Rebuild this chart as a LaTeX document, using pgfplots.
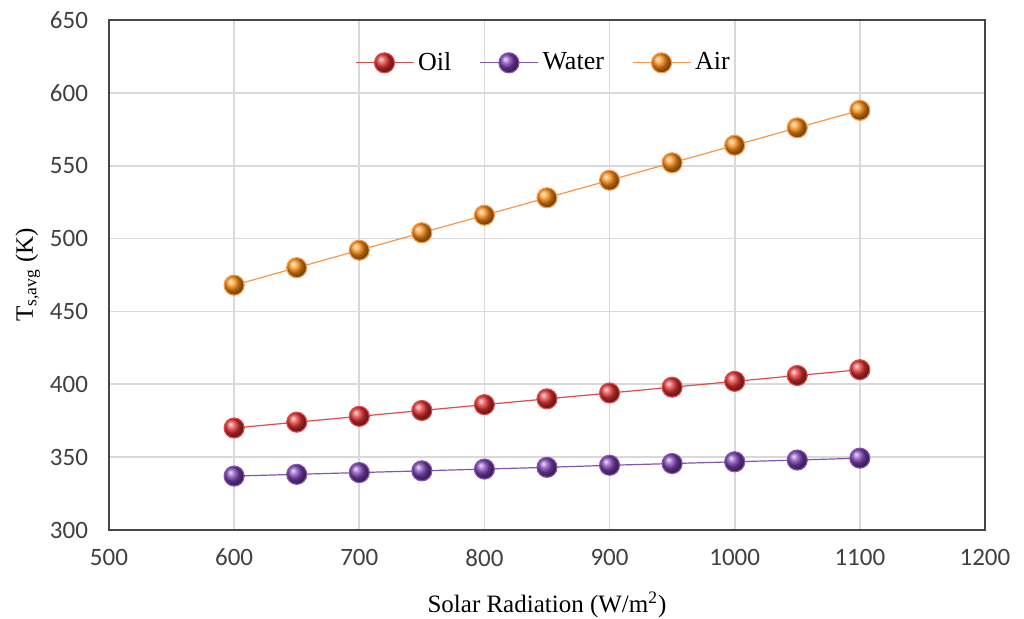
\documentclass[border=0pt]{standalone}
\usepackage{fontspec}
\setmainfont{Liberation Serif}
\newfontfamily\calibri{Carlito}
\usepackage{pgfplots}
\pgfplotsset{compat=1.18}
\definecolor{oilline}{RGB}{225,75,75}
\definecolor{oilball}{RGB}{225,50,50}
\definecolor{waterline}{RGB}{130,85,175}
\definecolor{waterball}{RGB}{125,65,180}
\definecolor{airline}{RGB}{247,150,70}
\definecolor{airball}{RGB}{250,140,20}
\definecolor{gridc}{RGB}{217,217,217}
\definecolor{framec}{RGB}{70,70,70}
\begin{document}
\begin{tikzpicture}
\useasboundingbox (-54.5pt,-44.5pt) rectangle (457.5pt,265pt);
\begin{axis}[
  scale only axis,
  width=438pt, height=255pt,
  xmin=500, xmax=1200, ymin=300, ymax=650,
  xtick={500,600,...,1200},
  ytick={300,350,...,650},
  major tick length=0pt,
  grid=major,
  major grid style={gridc, line width=0.9pt},
  axis line style={framec, line width=0.9pt},
  /pgf/number format/assume math mode=true,
  /pgf/number format/1000 sep={},
  ticklabel style={font=\calibri\fontsize{12.5}{14}\selectfont, text=black!75},
  xticklabel style={yshift=-6pt},
  yticklabel style={xshift=-7pt},
  xlabel={Solar Radiation (W/m\textsuperscript{2})},
  ylabel={T\textsubscript{s,avg} (K)},
  label style={font=\fontsize{12.5}{14}\selectfont},
  xlabel style={yshift=-6pt},
  ylabel style={yshift=-2pt},
  legend columns=3,
  legend style={draw=none, fill=none, at={(0.497,0.916)}, anchor=center,
    font=\fontsize{13}{15}\selectfont, /tikz/every even column/.style={column sep=12pt}},
  legend cell align=left,
  legend image code/.code={
    \draw[mark repeat=2,mark phase=2] plot coordinates {(0pt,0pt)(14.5pt,0pt)(29pt,0pt)};},
]
\addplot[oilline, line width=0.6pt, mark=ball, mark size=5pt, mark options={ball color=oilball}] coordinates {
(600,370)(650,374)(700,378)(750,382)(800,386)(850,390)(900,394)(950,398)(1000,402)(1050,406)(1100,410)};
\addlegendentry{Oil}
\addplot[waterline, line width=0.6pt, mark=ball, mark size=5pt, mark options={ball color=waterball}] coordinates {
(600,337)(650,338.2)(700,339.4)(750,340.6)(800,341.8)(850,343)(900,344.4)(950,345.6)(1000,346.8)(1050,348)(1100,349.3)};
\addlegendentry{Water}
\addplot[airline, line width=0.6pt, mark=ball, mark size=5pt, mark options={ball color=airball}] coordinates {
(600,468)(650,480)(700,492)(750,504)(800,516)(850,528)(900,540)(950,552)(1000,564)(1050,576)(1100,588)};
\addlegendentry{Air}
\end{axis}
\end{tikzpicture}
\end{document}
